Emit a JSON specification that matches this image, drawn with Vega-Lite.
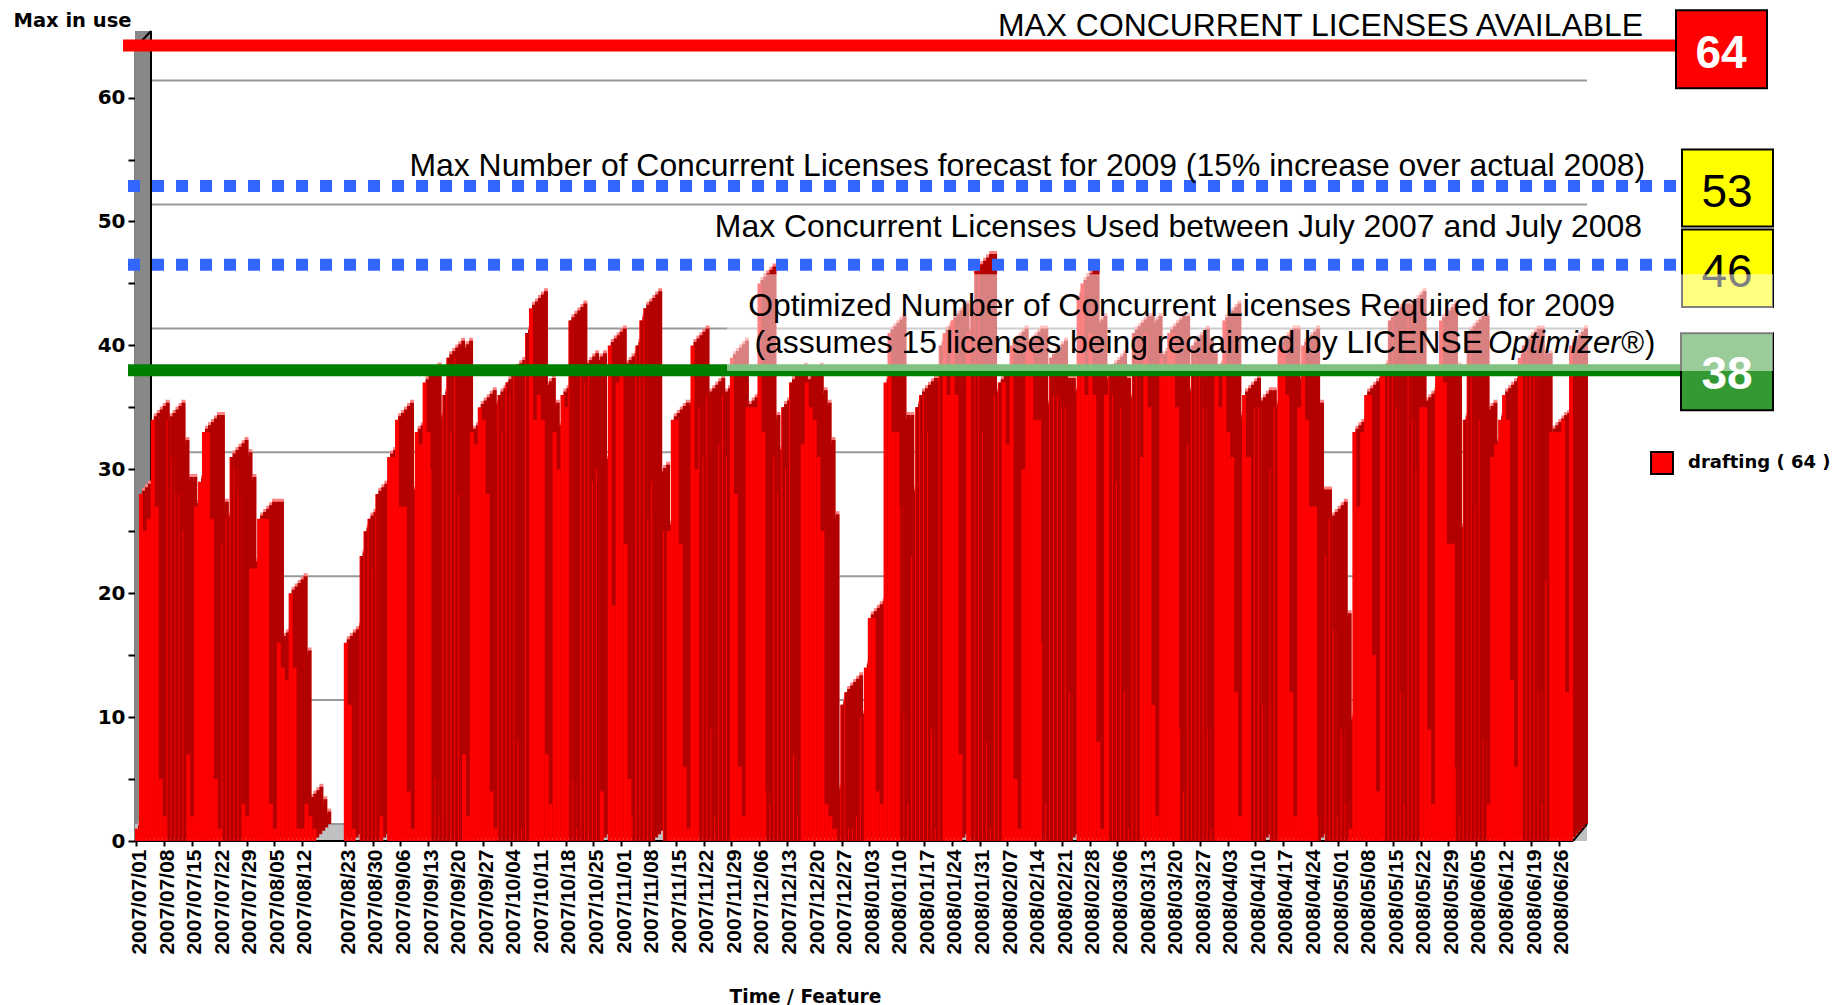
{"$schema":"https://vega.github.io/schema/vega-lite/v6.json","autosize":{"type":"none"},"padding":{"left":135,"top":48,"right":271,"bottom":164},"width":1438,"height":793,"background":"white","config":{"view":{"stroke":null}},
"datasets":{"usage":[
{"day":"2007/07/01","v":1},{"day":"2007/07/02","v":28},{"day":"2007/07/03","v":25},{"day":"2007/07/04","v":26},{"day":"2007/07/05","v":34},{"day":"2007/07/06","v":27},{"day":"2007/07/07","v":5},{"day":"2007/07/08","v":2},{"day":"2007/07/09","v":34},{"day":"2007/07/10","v":31},{"day":"2007/07/11","v":28},{"day":"2007/07/12","v":28},{"day":"2007/07/13","v":25},{"day":"2007/07/14","v":7},{"day":"2007/07/15","v":2},{"day":"2007/07/16","v":27},{"day":"2007/07/17","v":29},{"day":"2007/07/18","v":33},{"day":"2007/07/19","v":33},{"day":"2007/07/20","v":26},{"day":"2007/07/21","v":5},{"day":"2007/07/22","v":1},{"day":"2007/07/23","v":24},{"day":"2007/07/24","v":26},{"day":"2007/07/25","v":31},{"day":"2007/07/26","v":30},{"day":"2007/07/27","v":28},{"day":"2007/07/28","v":3},{"day":"2007/07/29","v":2},{"day":"2007/07/30","v":22},{"day":"2007/07/31","v":22},
{"day":"2007/08/01","v":26},{"day":"2007/08/02","v":26},{"day":"2007/08/03","v":26},{"day":"2007/08/04","v":3},{"day":"2007/08/05","v":1},{"day":"2007/08/06","v":16},{"day":"2007/08/07","v":14},{"day":"2007/08/08","v":13},{"day":"2007/08/09","v":20},{"day":"2007/08/10","v":14},{"day":"2007/08/11","v":1},{"day":"2007/08/12","v":1},{"day":"2007/08/13","v":3},{"day":"2007/08/14","v":2},{"day":"2007/08/15","v":1},{"day":"2007/08/16","v":0},{"day":"2007/08/17","v":0},{"day":"2007/08/18","v":0},{"day":"2007/08/19","v":0},{"day":"2007/08/20","v":0},{"day":"2007/08/21","v":0},{"day":"2007/08/22","v":0},{"day":"2007/08/23","v":16},{"day":"2007/08/24","v":11},{"day":"2007/08/25","v":1},{"day":"2007/08/26","v":0},{"day":"2007/08/27","v":23},{"day":"2007/08/28","v":25},{"day":"2007/08/29","v":26},{"day":"2007/08/30","v":22},{"day":"2007/08/31","v":28},
{"day":"2007/09/01","v":2},{"day":"2007/09/02","v":0},{"day":"2007/09/03","v":31},{"day":"2007/09/04","v":31},{"day":"2007/09/05","v":34},{"day":"2007/09/06","v":27},{"day":"2007/09/07","v":27},{"day":"2007/09/08","v":4},{"day":"2007/09/09","v":1},{"day":"2007/09/10","v":33},{"day":"2007/09/11","v":32},{"day":"2007/09/12","v":37},{"day":"2007/09/13","v":33},{"day":"2007/09/14","v":30},{"day":"2007/09/15","v":5},{"day":"2007/09/16","v":2},{"day":"2007/09/17","v":36},{"day":"2007/09/18","v":39},{"day":"2007/09/19","v":33},{"day":"2007/09/20","v":39},{"day":"2007/09/21","v":28},{"day":"2007/09/22","v":7},{"day":"2007/09/23","v":2},{"day":"2007/09/24","v":33},{"day":"2007/09/25","v":32},{"day":"2007/09/26","v":35},{"day":"2007/09/27","v":34},{"day":"2007/09/28","v":28},{"day":"2007/09/29","v":4},{"day":"2007/09/30","v":1},
{"day":"2007/10/01","v":36},{"day":"2007/10/02","v":33},{"day":"2007/10/03","v":37},{"day":"2007/10/04","v":36},{"day":"2007/10/05","v":38},{"day":"2007/10/06","v":8},{"day":"2007/10/07","v":1},{"day":"2007/10/08","v":41},{"day":"2007/10/09","v":43},{"day":"2007/10/10","v":34},{"day":"2007/10/11","v":36},{"day":"2007/10/12","v":34},{"day":"2007/10/13","v":7},{"day":"2007/10/14","v":3},{"day":"2007/10/15","v":33},{"day":"2007/10/16","v":30},{"day":"2007/10/17","v":36},{"day":"2007/10/18","v":35},{"day":"2007/10/19","v":42},{"day":"2007/10/20","v":5},{"day":"2007/10/21","v":1},{"day":"2007/10/22","v":38},{"day":"2007/10/23","v":37},{"day":"2007/10/24","v":38},{"day":"2007/10/25","v":29},{"day":"2007/10/26","v":30},{"day":"2007/10/27","v":4},{"day":"2007/10/28","v":0},{"day":"2007/10/29","v":40},{"day":"2007/10/30","v":19},{"day":"2007/10/31","v":37},
{"day":"2007/11/01","v":38},{"day":"2007/11/02","v":24},{"day":"2007/11/03","v":5},{"day":"2007/11/04","v":2},{"day":"2007/11/05","v":40},{"day":"2007/11/06","v":42},{"day":"2007/11/07","v":43},{"day":"2007/11/08","v":26},{"day":"2007/11/09","v":29},{"day":"2007/11/10","v":0},{"day":"2007/11/11","v":0},{"day":"2007/11/12","v":25},{"day":"2007/11/13","v":25},{"day":"2007/11/14","v":34},{"day":"2007/11/15","v":34},{"day":"2007/11/16","v":24},{"day":"2007/11/17","v":6},{"day":"2007/11/18","v":1},{"day":"2007/11/19","v":40},{"day":"2007/11/20","v":30},{"day":"2007/11/21","v":35},{"day":"2007/11/22","v":31},{"day":"2007/11/23","v":36},{"day":"2007/11/24","v":9},{"day":"2007/11/25","v":2},{"day":"2007/11/26","v":32},{"day":"2007/11/27","v":36},{"day":"2007/11/28","v":31},{"day":"2007/11/29","v":39},{"day":"2007/11/30","v":28},
{"day":"2007/12/01","v":6},{"day":"2007/12/02","v":2},{"day":"2007/12/03","v":35},{"day":"2007/12/04","v":35},{"day":"2007/12/05","v":35},{"day":"2007/12/06","v":45},{"day":"2007/12/07","v":33},{"day":"2007/12/08","v":4},{"day":"2007/12/09","v":3},{"day":"2007/12/10","v":31},{"day":"2007/12/11","v":28},{"day":"2007/12/12","v":35},{"day":"2007/12/13","v":30},{"day":"2007/12/14","v":37},{"day":"2007/12/15","v":7},{"day":"2007/12/16","v":2},{"day":"2007/12/17","v":32},{"day":"2007/12/18","v":37},{"day":"2007/12/19","v":35},{"day":"2007/12/20","v":34},{"day":"2007/12/21","v":31},{"day":"2007/12/22","v":25},{"day":"2007/12/23","v":3},{"day":"2007/12/24","v":2},{"day":"2007/12/25","v":1},{"day":"2007/12/26","v":1},{"day":"2007/12/27","v":11},{"day":"2007/12/28","v":12},{"day":"2007/12/29","v":1},{"day":"2007/12/30","v":1},{"day":"2007/12/31","v":2},
{"day":"2008/01/01","v":10},{"day":"2008/01/02","v":14},{"day":"2008/01/03","v":18},{"day":"2008/01/04","v":18},{"day":"2008/01/05","v":4},{"day":"2008/01/06","v":3},{"day":"2008/01/07","v":37},{"day":"2008/01/08","v":41},{"day":"2008/01/09","v":33},{"day":"2008/01/10","v":33},{"day":"2008/01/11","v":27},{"day":"2008/01/12","v":10},{"day":"2008/01/13","v":3},{"day":"2008/01/14","v":23},{"day":"2008/01/15","v":35},{"day":"2008/01/16","v":36},{"day":"2008/01/17","v":36},{"day":"2008/01/18","v":33},{"day":"2008/01/19","v":9},{"day":"2008/01/20","v":1},{"day":"2008/01/21","v":40},{"day":"2008/01/22","v":41},{"day":"2008/01/23","v":36},{"day":"2008/01/24","v":42},{"day":"2008/01/25","v":36},{"day":"2008/01/26","v":7},{"day":"2008/01/27","v":0},{"day":"2008/01/28","v":41},{"day":"2008/01/29","v":43},{"day":"2008/01/30","v":46},{"day":"2008/01/31","v":46},
{"day":"2008/02/01","v":33},{"day":"2008/02/02","v":8},{"day":"2008/02/03","v":1},{"day":"2008/02/04","v":36},{"day":"2008/02/05","v":37},{"day":"2008/02/06","v":37},{"day":"2008/02/07","v":32},{"day":"2008/02/08","v":40},{"day":"2008/02/09","v":5},{"day":"2008/02/10","v":1},{"day":"2008/02/11","v":30},{"day":"2008/02/12","v":40},{"day":"2008/02/13","v":40},{"day":"2008/02/14","v":34},{"day":"2008/02/15","v":34},{"day":"2008/02/16","v":16},{"day":"2008/02/17","v":3},{"day":"2008/02/18","v":39},{"day":"2008/02/19","v":36},{"day":"2008/02/20","v":36},{"day":"2008/02/21","v":35},{"day":"2008/02/22","v":35},{"day":"2008/02/23","v":12},{"day":"2008/02/24","v":0},{"day":"2008/02/25","v":44},{"day":"2008/02/26","v":45},{"day":"2008/02/27","v":36},{"day":"2008/02/28","v":41},{"day":"2008/02/29","v":36},
{"day":"2008/03/01","v":8},{"day":"2008/03/02","v":1},{"day":"2008/03/03","v":36},{"day":"2008/03/04","v":38},{"day":"2008/03/05","v":36},{"day":"2008/03/06","v":29},{"day":"2008/03/07","v":35},{"day":"2008/03/08","v":12},{"day":"2008/03/09","v":1},{"day":"2008/03/10","v":41},{"day":"2008/03/11","v":41},{"day":"2008/03/12","v":31},{"day":"2008/03/13","v":41},{"day":"2008/03/14","v":35},{"day":"2008/03/15","v":11},{"day":"2008/03/16","v":2},{"day":"2008/03/17","v":39},{"day":"2008/03/18","v":38},{"day":"2008/03/19","v":41},{"day":"2008/03/20","v":41},{"day":"2008/03/21","v":35},{"day":"2008/03/22","v":9},{"day":"2008/03/23","v":4},{"day":"2008/03/24","v":32},{"day":"2008/03/25","v":40},{"day":"2008/03/26","v":39},{"day":"2008/03/27","v":38},{"day":"2008/03/28","v":35},{"day":"2008/03/29","v":9},{"day":"2008/03/30","v":1},{"day":"2008/03/31","v":38},
{"day":"2008/04/01","v":35},{"day":"2008/04/02","v":42},{"day":"2008/04/03","v":33},{"day":"2008/04/04","v":31},{"day":"2008/04/05","v":12},{"day":"2008/04/06","v":2},{"day":"2008/04/07","v":36},{"day":"2008/04/08","v":31},{"day":"2008/04/09","v":31},{"day":"2008/04/10","v":35},{"day":"2008/04/11","v":35},{"day":"2008/04/12","v":11},{"day":"2008/04/13","v":0},{"day":"2008/04/14","v":30},{"day":"2008/04/15","v":35},{"day":"2008/04/16","v":40},{"day":"2008/04/17","v":40},{"day":"2008/04/18","v":36},{"day":"2008/04/19","v":12},{"day":"2008/04/20","v":2},{"day":"2008/04/21","v":35},{"day":"2008/04/22","v":40},{"day":"2008/04/23","v":34},{"day":"2008/04/24","v":27},{"day":"2008/04/25","v":27},{"day":"2008/04/26","v":2},{"day":"2008/04/27","v":0},{"day":"2008/04/28","v":23},{"day":"2008/04/29","v":26},{"day":"2008/04/30","v":17},
{"day":"2008/05/01","v":2},{"day":"2008/05/02","v":9},{"day":"2008/05/03","v":3},{"day":"2008/05/04","v":1},{"day":"2008/05/05","v":33},{"day":"2008/05/06","v":27},{"day":"2008/05/07","v":33},{"day":"2008/05/08","v":36},{"day":"2008/05/09","v":36},{"day":"2008/05/10","v":15},{"day":"2008/05/11","v":4},{"day":"2008/05/12","v":38},{"day":"2008/05/13","v":38},{"day":"2008/05/14","v":42},{"day":"2008/05/15","v":42},{"day":"2008/05/16","v":35},{"day":"2008/05/17","v":12},{"day":"2008/05/18","v":3},{"day":"2008/05/19","v":43},{"day":"2008/05/20","v":34},{"day":"2008/05/21","v":30},{"day":"2008/05/22","v":35},{"day":"2008/05/23","v":35},{"day":"2008/05/24","v":9},{"day":"2008/05/25","v":3},{"day":"2008/05/26","v":38},{"day":"2008/05/27","v":42},{"day":"2008/05/28","v":37},{"day":"2008/05/29","v":24},{"day":"2008/05/30","v":24},{"day":"2008/05/31","v":6},
{"day":"2008/06/01","v":2},{"day":"2008/06/02","v":34},{"day":"2008/06/03","v":41},{"day":"2008/06/04","v":41},{"day":"2008/06/05","v":27},{"day":"2008/06/06","v":34},{"day":"2008/06/07","v":8},{"day":"2008/06/08","v":3},{"day":"2008/06/09","v":31},{"day":"2008/06/10","v":32},{"day":"2008/06/11","v":34},{"day":"2008/06/12","v":36},{"day":"2008/06/13","v":34},{"day":"2008/06/14","v":13},{"day":"2008/06/15","v":6},{"day":"2008/06/16","v":39},{"day":"2008/06/17","v":40},{"day":"2008/06/18","v":40},{"day":"2008/06/19","v":38},{"day":"2008/06/20","v":38},{"day":"2008/06/21","v":12},{"day":"2008/06/22","v":3},{"day":"2008/06/23","v":21},{"day":"2008/06/24","v":33},{"day":"2008/06/25","v":33},{"day":"2008/06/26","v":33},{"day":"2008/06/27","v":34},{"day":"2008/06/28","v":12},{"day":"2008/06/29","v":40}],
"limits":[{"name":"available","x1":123,"x2":1676,"y":64.2},{"name":"forecast","x1":128,"x2":1682,"y":52.86},{"name":"used","x1":128,"x2":1682,"y":46.5},{"name":"optimized","x1":128,"x2":1681,"y":38}],
"boxes":[{"name":"available","x1":1676,"x2":1767,"y1":67.04,"y2":60.75},{"name":"forecast","x1":1682,"x2":1773,"y1":55.8,"y2":49.6},{"name":"used","x1":1682,"x2":1773,"y1":49.36,"y2":43.1},{"name":"optimized","x1":1681,"x2":1773,"y1":40.98,"y2":34.76}]
},
"resolve":{"scale":{"x":"independent"}},
"layer":[
{"encoding":{"x":{"field":"x1","type":"quantitative","scale":{"domain":[135,1573],"nice":false,"zero":false},"axis":null},"x2":{"field":"x2"},"y":{"field":"y1","type":"quantitative","scale":{"domain":[0,64],"nice":false}},"y2":{"field":"y2"}},
"layer":[
{"data":{"values":[{"x1":135,"x2":151,"y1":0,"y2":65.37}]},"mark":{"type":"rect","color":"#888888"}},
{"data":{"values":[{"x1":135,"x2":1587,"y1":0,"y2":1.37}]},"mark":{"type":"rect","color":"#C0C0C0"}},
{"data":{"values":[{"x1":151,"x2":1587,"y1":10,"y2":10},{"x1":151,"x2":1587,"y1":20,"y2":20},{"x1":151,"x2":1587,"y1":30,"y2":30},{"x1":151,"x2":1587,"y1":40,"y2":40},{"x1":151,"x2":1587,"y1":50,"y2":50},{"x1":151,"x2":1587,"y1":60,"y2":60},{"x1":151,"x2":1587,"y1":0,"y2":0}]},"mark":{"type":"rule","color":"#999999","strokeWidth":2,"yOffset":-17,"y2Offset":-17}},
{"data":{"values":[{"x1":151,"x2":151,"y1":1.37,"y2":65.37},{"x1":135,"x2":1573,"y1":0,"y2":0},{"x1":1573,"x2":1587,"y1":0,"y2":1.37},{"x1":135,"x2":151,"y1":64,"y2":65.37}]},"mark":{"type":"rule","color":"#000000","strokeWidth":2}}
]},
{"data":{"name":"usage"},
"encoding":{"x":{"field":"day","type":"nominal","scale":{"paddingInner":0,"paddingOuter":0},"axis":{"title":"Time / Feature","titleFont":"DejaVu Sans","titleFontSize":18.6,"titleFontWeight":"bold","titleColor":"#000","titleX":670,"titleY":161,"titleAlign":"center","titleBaseline":"alphabetic","labelFont":"Liberation Sans","labelFontSize":21,"labelFontWeight":"bold","labelColor":"#000","labelAngle":270,"labelPadding":3,"labelOffset":3,"labelBaseline":"middle","labelAlign":"right","tickColor":"#000","tickWidth":2,"tickSize":5,"domain":false,"labelOverlap":false,"values":["2007/07/01","2007/07/08","2007/07/15","2007/07/22","2007/07/29","2007/08/05","2007/08/12","2007/08/23","2007/08/30","2007/09/06","2007/09/13","2007/09/20","2007/09/27","2007/10/04","2007/10/11","2007/10/18","2007/10/25","2007/11/01","2007/11/08","2007/11/15","2007/11/22","2007/11/29","2007/12/06","2007/12/13","2007/12/20","2007/12/27","2008/01/03","2008/01/10","2008/01/17","2008/01/24","2008/01/31","2008/02/07","2008/02/14","2008/02/21","2008/02/28","2008/03/06","2008/03/13","2008/03/20","2008/03/27","2008/04/03","2008/04/10","2008/04/17","2008/04/24","2008/05/01","2008/05/08","2008/05/15","2008/05/22","2008/05/29","2008/06/05","2008/06/12","2008/06/19","2008/06/26"]}},
"y":{"field":"v","type":"quantitative","scale":{"domain":[0,64],"nice":false},"axis":{"title":"Max in use","titleFont":"DejaVu Sans","titleFontSize":19.5,"titleFontWeight":"bold","titleColor":"#000","titleAngle":0,"titleX":-122,"titleY":-22,"titleAlign":"left","titleBaseline":"alphabetic","labelFont":"DejaVu Sans","labelFontSize":20,"labelFontWeight":"bold","labelColor":"#000","labelPadding":3,"grid":false,"values":[0,5,10,15,20,25,30,35,40,45,50,55,60],"labelExpr":"datum.value % 10 === 0 ? datum.label : ''","domainColor":"#000","domainWidth":2,"tickColor":"#000","tickWidth":2,"tickSize":7}}},
"layer":[
{"transform":[{"filter":"datum.v > 0"}],"mark":{"type":"bar","color":"#FF8080","xOffset":15,"x2Offset":15,"yOffset":-20,"y2Offset":-17}},
{"transform":[{"filter":"datum.v > 0"}],"mark":{"type":"bar","color":"#FF8080","xOffset":12,"x2Offset":12,"yOffset":-16.6,"y2Offset":-13.6}},
{"transform":[{"filter":"datum.v > 0"}],"mark":{"type":"bar","color":"#FF8080","xOffset":9,"x2Offset":9,"yOffset":-13.2,"y2Offset":-10.2}},
{"transform":[{"filter":"datum.v > 0"}],"mark":{"type":"bar","color":"#FF8080","xOffset":6,"x2Offset":6,"yOffset":-9.8,"y2Offset":-6.8}},
{"transform":[{"filter":"datum.v > 0"}],"mark":{"type":"bar","color":"#FF8080","xOffset":3,"x2Offset":3,"yOffset":-6.4,"y2Offset":-3.4}},
{"transform":[{"filter":"datum.v > 0"}],"mark":{"type":"bar","color":"#B30000","xOffset":15,"x2Offset":15,"yOffset":-17,"y2Offset":-17}},
{"transform":[{"filter":"datum.v > 0"}],"mark":{"type":"bar","color":"#B30000","xOffset":12,"x2Offset":12,"yOffset":-13.6,"y2Offset":-13.6}},
{"transform":[{"filter":"datum.v > 0"}],"mark":{"type":"bar","color":"#B30000","xOffset":9,"x2Offset":9,"yOffset":-10.2,"y2Offset":-10.2}},
{"transform":[{"filter":"datum.v > 0"}],"mark":{"type":"bar","color":"#B30000","xOffset":6,"x2Offset":6,"yOffset":-6.8,"y2Offset":-6.8}},
{"transform":[{"filter":"datum.v > 0"}],"mark":{"type":"bar","color":"#B30000","xOffset":3,"x2Offset":3,"yOffset":-3.4,"y2Offset":-3.4}},
{"mark":{"type":"bar"},"encoding":{"color":{"datum":"drafting ( 64 )","scale":{"range":["#FF0000"]},"legend":{"title":null,"orient":"none","legendX":1515,"legendY":403,"symbolType":"square","symbolSize":480,"symbolStrokeColor":"#000","symbolStrokeWidth":2,"labelFont":"DejaVu Sans","labelFontSize":18,"labelFontWeight":"bold","labelColor":"#000","labelOffset":14}}}},
{"transform":[{"filter":"(datum.day >= '2007/07/09' && datum.day <= '2007/07/13') || (datum.day >= '2007/07/23' && datum.day <= '2007/07/27') || (datum.day >= '2007/08/27' && datum.day <= '2007/08/31') || (datum.day >= '2007/09/14' && datum.day <= '2007/09/21') || (datum.day >= '2007/10/01' && datum.day <= '2007/10/08') || (datum.day >= '2007/10/19' && datum.day <= '2007/10/26') || (datum.day >= '2007/11/04' && datum.day <= '2007/11/12') || (datum.day >= '2007/11/21' && datum.day <= '2007/11/28') || (datum.day >= '2007/12/08' && datum.day <= '2007/12/16') || (datum.day >= '2007/12/26' && datum.day <= '2008/01/01') || (datum.day >= '2008/01/11' && datum.day <= '2008/01/21') || (datum.day >= '2008/01/29' && datum.day <= '2008/02/05') || (datum.day >= '2008/02/16' && datum.day <= '2008/02/24') || (datum.day >= '2008/03/04' && datum.day <= '2008/03/11') || (datum.day >= '2008/03/22' && datum.day <= '2008/03/30') || (datum.day >= '2008/04/09' && datum.day <= '2008/04/15') || (datum.day >= '2008/04/26' && datum.day <= '2008/05/03') || (datum.day >= '2008/05/13' && datum.day <= '2008/05/21') || (datum.day >= '2008/05/31' && datum.day <= '2008/06/07') || (datum.day >= '2008/06/17' && datum.day <= '2008/06/23')"}],"mark":{"type":"bar","color":"#B30000","width":2.9,"xOffset":0.5,"x2Offset":0.5}}
]},
{"encoding":{"x":{"field":"x1","type":"quantitative","scale":{"domain":[135,1573],"nice":false,"zero":false},"axis":null}},
"layer":[
{"data":{"name":"limits"},"transform":[{"filter":"datum.name == 'available'"}],"mark":{"type":"rule","color":"#FF0000","strokeWidth":12},"encoding":{"x2":{"field":"x2"},"y":{"field":"y","type":"quantitative"}}},
{"data":{"name":"limits"},"transform":[{"filter":"datum.name == 'forecast' || datum.name == 'used'"}],"mark":{"type":"rule","color":"#3366FF","strokeWidth":12,"strokeDash":[12,12]},"encoding":{"x2":{"field":"x2"},"y":{"field":"y","type":"quantitative"}}},
{"data":{"name":"limits"},"transform":[{"filter":"datum.name == 'optimized'"}],"mark":{"type":"rule","color":"#008000","strokeWidth":12},"encoding":{"x2":{"field":"x2"},"y":{"field":"y","type":"quantitative"}}},
{"data":{"name":"boxes"},"transform":[{"filter":"datum.name == 'available'"}],"mark":{"type":"rect","fill":"#FF0000","stroke":"#000","strokeWidth":2},"encoding":{"x2":{"field":"x2"},"y":{"field":"y1","type":"quantitative"},"y2":{"field":"y2"}}},
{"data":{"name":"boxes"},"transform":[{"filter":"datum.name == 'forecast' || datum.name == 'used'"}],"mark":{"type":"rect","fill":"#FFFF00","stroke":"#000","strokeWidth":2},"encoding":{"x2":{"field":"x2"},"y":{"field":"y1","type":"quantitative"},"y2":{"field":"y2"}}},
{"data":{"name":"boxes"},"transform":[{"filter":"datum.name == 'optimized'"}],"mark":{"type":"rect","fill":"#339933","stroke":"#000","strokeWidth":2},"encoding":{"x2":{"field":"x2"},"y":{"field":"y1","type":"quantitative"},"y2":{"field":"y2"}}},
{"data":{"values":[{"x1":1727,"y":51.14,"t":"53"},{"x1":1727,"y":44.69,"t":"46"}]},"mark":{"type":"text","font":"Liberation Sans","fontSize":46,"color":"#000","align":"center","baseline":"alphabetic"},"encoding":{"y":{"field":"y","type":"quantitative"},"text":{"field":"t"}}},
{"data":{"values":[{"x1":727,"x2":1773,"y1":45.74,"y2":37.94}]},"mark":{"type":"rect","fill":"#FFFFFF","opacity":0.5},"encoding":{"x2":{"field":"x2"},"y":{"field":"y1","type":"quantitative"},"y2":{"field":"y2"}}},
{"data":{"values":[{"x1":1721,"y":62.36,"t":"64"},{"x1":1727,"y":36.46,"t":"38"}]},"mark":{"type":"text","font":"Liberation Sans","fontSize":46,"fontWeight":"bold","color":"#FFF","align":"center","baseline":"alphabetic"},"encoding":{"y":{"field":"y","type":"quantitative"},"text":{"field":"t"}}},
{"data":{"values":[{"x1":1643,"y":64.95,"t":"MAX CONCURRENT LICENSES AVAILABLE"},{"x1":1645,"y":53.65,"t":"Max Number of Concurrent Licenses forecast for 2009 (15% increase over actual 2008)"},{"x1":1642,"y":48.72,"t":"Max Concurrent Licenses Used between July 2007 and July 2008"},{"x1":1615,"y":42.35,"t":"Optimized Number of Concurrent Licenses Required for 2009"},{"x1":1483,"y":39.36,"t":"(assumes 15 licenses being reclaimed by LICENSE"}]},"mark":{"type":"text","font":"Liberation Sans","fontSize":31.9,"color":"#000","align":"right","baseline":"alphabetic"},"encoding":{"y":{"field":"y","type":"quantitative"},"text":{"field":"t"}}},
{"data":{"values":[{"x1":1488,"y":39.36,"t":"Optimizer®"}]},"mark":{"type":"text","font":"Liberation Sans","fontSize":31,"fontStyle":"italic","color":"#000","align":"left","baseline":"alphabetic"},"encoding":{"y":{"field":"y","type":"quantitative"},"text":{"field":"t"}}},
{"data":{"values":[{"x1":1645,"y":39.36,"t":")"}]},"mark":{"type":"text","font":"Liberation Sans","fontSize":31,"color":"#000","align":"left","baseline":"alphabetic"},"encoding":{"y":{"field":"y","type":"quantitative"},"text":{"field":"t"}}}
]}
]}
